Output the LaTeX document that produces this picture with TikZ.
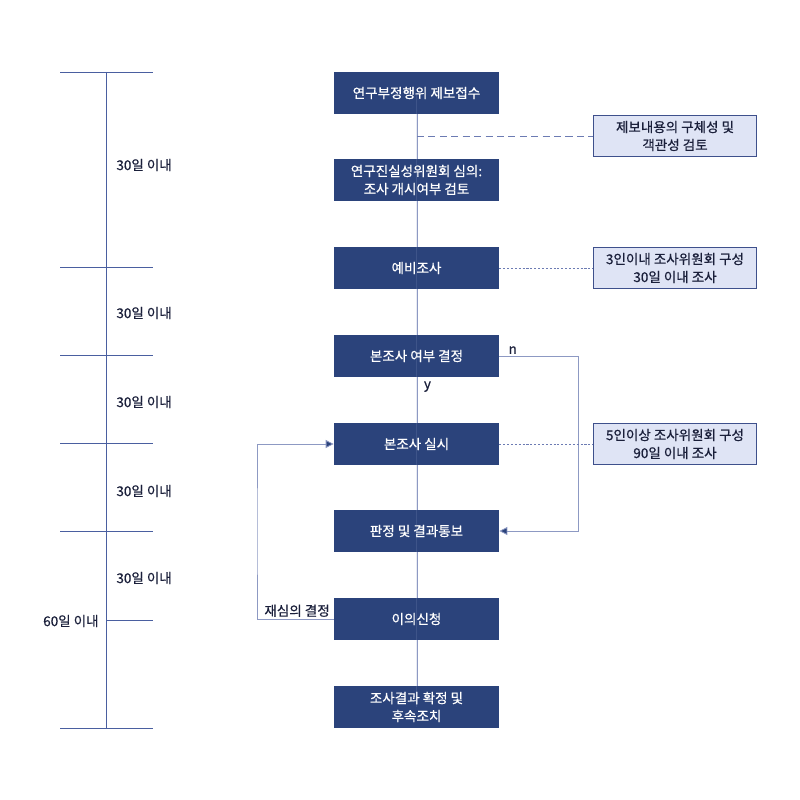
\documentclass[tikz,border=0pt]{standalone}
\usepackage{fontspec}
\setmainfont{Noto Sans CJK KR}[FakeBold = 0.6]
\usetikzlibrary{arrows.meta}
\definecolor{boxnavy}{HTML}{2B437B}
\definecolor{notefill}{HTML}{DFE4F5}
\definecolor{noteline}{HTML}{3E508C}
\definecolor{rulecol}{HTML}{4A5FA0}
\definecolor{spinecol}{HTML}{8D99C3}
\definecolor{dashcol}{HTML}{6C7BB3}
\definecolor{labelcol}{HTML}{1A1F3A}
\begin{document}
\begin{tikzpicture}[x = 0.02cm, y = -0.02cm, line width = 0.45pt,
                    process/.style = {rectangle, fill = boxnavy, text = white, minimum width = 3.3cm, minimum height = 0.84cm, inner sep = 0pt, align = center, font = \fontsize{7.7}{10.2}\selectfont},
                    note/.style    = {rectangle, draw = noteline, line width = 0.6pt, fill = notefill, text = labelcol, minimum width = 3.26cm, minimum height = 0.82cm, inner sep = 0pt, align = center, font = \fontsize{7.7}{10.2}\selectfont},
                    period/.style  = {anchor = west, inner sep = 0pt, text = labelcol, font = \fontsize{7.7}{10}\selectfont},
                    tag/.style     = {inner sep = 1pt, text = labelcol, font = \fontsize{7.7}{10}\selectfont},
                    link/.style    = {draw = spinecol},
                    tip/.style     = {draw = spinecol, arrows = {-{Triangle[length = 4.5pt, width = 4.5pt, fill = boxnavy]}}}
                    ]
    \useasboundingbox (0, 0) rectangle (800, 800);

    % time scale on the left
    \foreach \y in {72, 267, 355, 443, 531, 728}
        \draw[rulecol] (60, \y) -- (153, \y);
    \draw[rulecol] (106, 620) -- (153, 620);
    \draw[rulecol] (106, 72) -- (106, 728);
    \foreach \y in {165, 313, 402, 491, 578}
        \node[period] at (116, \y) {30일 이내};
    \node[period, anchor = east] (sixty) at (99, 621) {60일 이내};

    % spine under the boxes
    \draw[link] (417, 93) -- (417, 707);

    \node[process] (s1) at (416.5, 93)  {연구부정행위 제보접수};
    \node[process] (s2) at (416.5, 180) {연구진실성위원회 심의:\\조사 개시여부 검토};
    \node[process] (s3) at (416.5, 268) {예비조사};
    \node[process] (s4) at (416.5, 356) {본조사 여부 결정};
    \node[process] (s5) at (416.5, 444) {본조사 실시};
    \node[process] (s6) at (416.5, 531) {판정 및 결과통보};
    \node[process] (s7) at (416.5, 619) {이의신청};
    \node[process] (s8) at (416.5, 707) {조사결과 확정 및\\후속조치};

    \node[note] (n1) at (675, 136) {제보내용의 구체성 및\\객관성 검토};
    \node[note] (n2) at (675, 268) {3인이내 조사위원회 구성\\30일 이내 조사};
    \node[note] (n3) at (675, 444) {5인이상 조사위원회 구성\\90일 이내 조사};

    % spine seen through the boxes
    \draw[spinecol, opacity = 0.2] (s1.center) -- (s8.center);

    \coordinate (c1) at (417, 136);
    \draw[dashcol, dash pattern = on 4pt off 2.5pt] (c1) -- (n1.west);
    \draw[dashcol, dash pattern = on 1.2pt off 1pt] (s3.east) -- (n2.west);

    \draw[tip] (s4.east) node[tag, anchor = south west, xshift = 4pt] {n} -| (578, 444) |- (s6.east);
    \draw[dashcol, dash pattern = on 1.2pt off 1pt] (s5.east) -- (n3.west);
    \node[tag, anchor = north west] (yes) at ([xshift = 3pt, yshift = -1pt] s4.south) {y};

    \draw[tip] (s7.west) node[tag, anchor = south east, xshift = -1pt] {재심의 결정} -| (257, 531) |- (s5.west);
\end{tikzpicture}
\end{document}
